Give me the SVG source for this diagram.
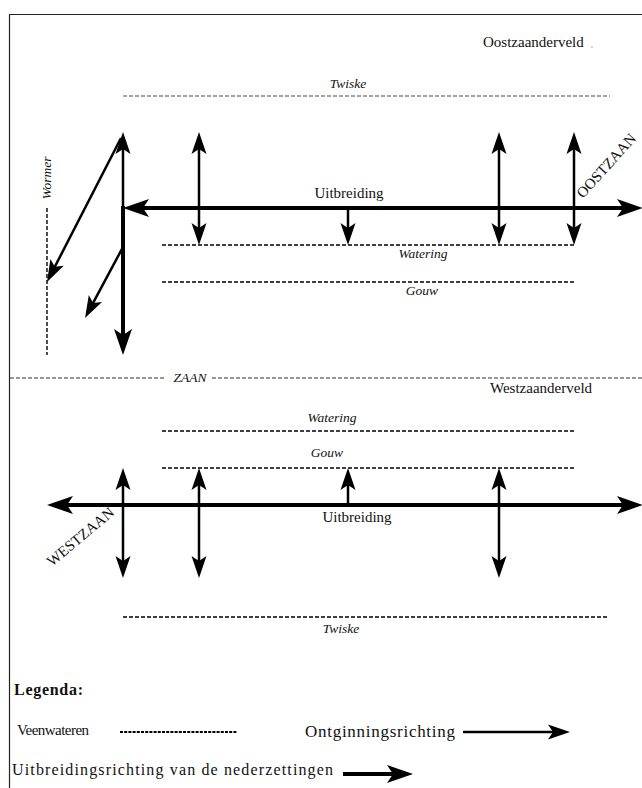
<svg xmlns="http://www.w3.org/2000/svg" width="642" height="788" viewBox="0 0 642 788">
<style>
text{font-family:"Liberation Serif","DejaVu Serif",serif;fill:#111}
.it{font-style:italic;font-size:13.5px}
.lb{font-size:15px}
.dash{stroke:#000;stroke-width:1.4;stroke-dasharray:4 2;fill:none}
.grey{stroke:#888;stroke-width:1.3;stroke-dasharray:4 2;fill:none}
.thin{stroke:#000;stroke-width:2.5;fill:none}
.thick{stroke:#000;stroke-width:4;fill:none}
</style>
<defs>
<marker id="h" viewBox="-11 -9 24 18" refX="0" refY="0" markerWidth="24" markerHeight="18" markerUnits="userSpaceOnUse" orient="auto-start-reverse"><path d="M12,0 L-10,-7.5 L-5,0 L-10,7.5 Z" fill="#000"/></marker>
<marker id="H" viewBox="-13 -10 28 20" refX="0" refY="0" markerWidth="28" markerHeight="20" markerUnits="userSpaceOnUse" orient="auto-start-reverse"><path d="M14,0 L-12,-9 L-6,0 L-12,9 Z" fill="#000"/></marker>
</defs>
<rect width="642" height="788" fill="#fff"/>
<g id="frame" stroke="#222" stroke-width="1.2" fill="none"><path d="M9.5,788 V14.5 H642"/></g>

<g id="oostzaanderveld"><text class="lb" x="483" y="47">Oostzaanderveld</text><circle cx="592" cy="47" r="0.8" fill="#999"/></g>
<g id="twiske-top"><line class="grey" x1="123" y1="96" x2="610" y2="96"/><text class="it" x="348" y="88" text-anchor="middle">Twiske</text></g>
<g id="wormer"><line class="dash" x1="47" y1="208" x2="47" y2="355"/><text class="it" transform="translate(51,178) rotate(-90)" text-anchor="middle">Wormer</text></g>
<g id="watering-top"><line class="dash" x1="162" y1="245" x2="574" y2="245"/><text class="it" x="423" y="258" text-anchor="middle">Watering</text></g>
<g id="gouw-top"><line class="dash" x1="162" y1="282" x2="574" y2="282"/><text class="it" x="422" y="295" text-anchor="middle">Gouw</text></g>
<g id="oostzaan"><text class="lb" font-size="13" transform="translate(583,199) rotate(-48)">OOSTZAAN</text></g>
<g id="uitbreiding-top"><text class="lb" x="349" y="198" text-anchor="middle">Uitbreiding</text></g>

<g id="zaan"><line stroke="#333" stroke-width="1" stroke-dasharray="4 2" x1="10" y1="378" x2="166" y2="378"/><line stroke="#333" stroke-width="1" stroke-dasharray="4 2" x1="212" y1="378" x2="642" y2="378"/><text class="it" x="190" y="382" text-anchor="middle">ZAAN</text></g>

<g id="westzaanderveld"><text class="lb" x="490" y="393">Westzaanderveld</text></g>
<g id="watering-bottom"><line class="dash" x1="162" y1="431" x2="574" y2="431"/><text class="it" x="332" y="422" text-anchor="middle">Watering</text></g>
<g id="gouw-bottom"><line class="dash" x1="162" y1="468" x2="574" y2="468"/><text class="it" x="327" y="457" text-anchor="middle">Gouw</text></g>
<g id="uitbreiding-bottom"><text class="lb" x="357" y="522" text-anchor="middle">Uitbreiding</text></g>
<g id="westzaan"><text class="lb" font-size="13.5" transform="translate(52,567) rotate(-40)">WESTZAAN</text></g>
<g id="twiske-bottom"><line class="dash" x1="123" y1="617" x2="608" y2="617"/><text class="it" x="341" y="633" text-anchor="middle">Twiske</text></g>

<g id="connectors">
<line class="thin" x1="123" y1="144" x2="123" y2="208" marker-start="url(#h)"/>
<line class="thick" x1="123" y1="206" x2="123" y2="341" marker-end="url(#H)"/>
<line class="thin" stroke-width="2" x1="121" y1="138" x2="52.5" y2="271.3" marker-end="url(#h)"/>
<line class="thin" stroke-width="2" x1="123" y1="247" x2="90.7" y2="307.4" marker-end="url(#h)"/>
<line class="thick" x1="137" y1="208" x2="629" y2="208" marker-start="url(#H)" marker-end="url(#H)"/>
<line class="thin" x1="199" y1="144" x2="199" y2="233" marker-start="url(#h)" marker-end="url(#h)"/>
<line class="thin" x1="348" y1="208" x2="348" y2="233" marker-end="url(#h)"/>
<line class="thin" x1="499" y1="144" x2="499" y2="233" marker-start="url(#h)" marker-end="url(#h)"/>
<line class="thin" x1="574" y1="144" x2="574" y2="233" marker-start="url(#h)" marker-end="url(#h)"/>

<line class="thick" x1="61" y1="505" x2="629" y2="505" marker-start="url(#H)" marker-end="url(#H)"/>
<line class="thin" x1="123" y1="480" x2="123" y2="566" marker-start="url(#h)" marker-end="url(#h)"/>
<line class="thin" x1="199" y1="480" x2="199" y2="566" marker-start="url(#h)" marker-end="url(#h)"/>
<line class="thin" x1="348" y1="505" x2="348" y2="480" marker-end="url(#h)"/>
<line class="thin" x1="499" y1="480" x2="499" y2="566" marker-start="url(#h)" marker-end="url(#h)"/>
</g>

<g id="legend">
<text x="14" y="695" font-size="16" font-weight="bold" textLength="69">Legenda:</text>
<text x="17" y="735" font-size="15" textLength="72">Veenwateren</text>
<line stroke="#000" stroke-width="2.2" stroke-dasharray="3 1.2" x1="120" y1="732" x2="237" y2="732"/>
<text x="305" y="737" font-size="17" textLength="150">Ontginningsrichting</text>
<line class="thin" x1="463" y1="732" x2="558" y2="732" marker-end="url(#h)"/>
<text x="12" y="775" font-size="16" textLength="321">Uitbreidingsrichting van de nederzettingen</text>
<line class="thick" x1="343" y1="774" x2="399" y2="774" marker-end="url(#H)"/>
</g>
</svg>
